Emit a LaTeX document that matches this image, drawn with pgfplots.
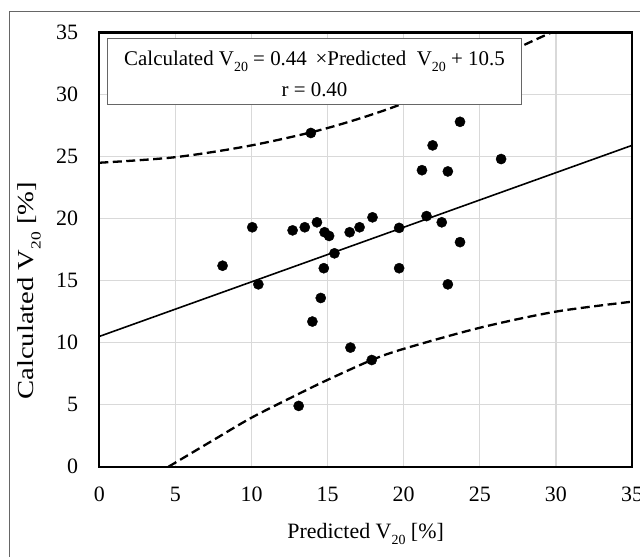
\documentclass[border=0pt]{standalone}
\usepackage{fontspec}
\setmainfont{Liberation Serif}
\usepackage{pgfplots}
\pgfplotsset{compat=1.18}

% lowered subscript like the Excel text
\newcommand\sub[1]{\raisebox{-0.3em}{\fontsize{14}{14}\selectfont #1}}
\newcommand\bigfont{\fontsize{21}{25}\selectfont}
\newcommand\tickfont{\fontsize{22}{26}\selectfont}

\begin{document}
\begin{tikzpicture}[x=1bp,y=1bp]
\useasboundingbox (0,0) rectangle (640,557);
\draw[black!60, line width=1bp] (9,0) -- (9,545) -- (640,545);
\begin{axis}[
    at={(99.3bp,90.3bp)}, anchor=south west,
    width=532.7bp, height=434.2bp, scale only axis,
    xmin=0, xmax=35, ymin=0, ymax=35,
    xtick={0,5,...,35}, ytick={0,5,...,35},
    major tick length=0pt,
    grid=major,
    major grid style={color=black!15, line width=1.2bp},
    axis line style={line width=2.2bp},
    /pgf/number format/assume math mode=true,
    tick label style={font=\tickfont},
    xticklabel style={anchor=north, inner sep=0pt, yshift=-20bp},
    yticklabel style={anchor=east, inner sep=0pt, xshift=-21bp},
    xlabel={Predicted V\sub{20} [\%]},
    ylabel={Calculated V\sub{20} [\%]},
    xlabel style={font=\tickfont, at={(axis description cs:0.5,-0.155)}, anchor=center},
    ylabel style={font=\fontsize{23}{27}\selectfont, xscale=1.25,
        at={(axis description cs:-0.1314,0.405)}, anchor=center},
]
% measured points
\addplot[only marks, mark=*, mark size=5.1bp, black] coordinates {
(8.1,16.2) (10.05,19.3) (10.45,14.7) (12.7,19.05) (13.1,4.9)
(13.5,19.3) (13.9,26.9) (14.0,11.7) (14.3,19.7) (14.55,13.6)
(14.75,16.0) (14.8,18.9) (15.1,18.6) (15.45,17.2) (16.45,18.9)
(16.5,9.6) (17.1,19.3) (17.9,8.6) (17.95,20.1) (19.7,19.25)
(19.7,16.0) (21.2,23.9) (21.5,20.2) (21.9,25.9) (22.5,19.7)
(22.9,23.8) (22.9,14.7) (23.7,18.1) (23.7,27.8) (26.4,24.8)
};
% regression line
\addplot[black, line width=1.6bp] coordinates {(0,10.5) (35,25.9)};
% upper band
\addplot[black, line width=2.3bp, dash pattern=on 9bp off 4.5bp, smooth] coordinates {
(0,24.5) (5,24.95) (10,25.9) (15,27.3) (20,29.3) (25,32.2) (27.75,33.9) (29.7,35)
};
% lower band
\addplot[black, line width=2.3bp, dash pattern=on 9bp off 4.5bp, smooth] coordinates {
(4.55,0) (7.5,2.15) (10,3.95) (12.9,5.75) (15,7.0) (17.9,8.6) (20,9.5)
(25,11.2) (30,12.5) (35,13.3)
};
\draw[fill=white, draw=black!60, line width=1.2bp]
  (rel axis cs:0.015,0.8346) rectangle (rel axis cs:0.793,0.9857);
\node[anchor=base, font=\bigfont, inner sep=0pt] at (rel axis cs:0.404,0.9245)
  {Calculated V\sub{20} = 0.44 \,×Predicted\ \ V\sub{20} + 10.5};
\node[anchor=base, font=\bigfont, inner sep=0pt] at (rel axis cs:0.404,0.8515)
  {r = 0.40};
\end{axis}
\end{tikzpicture}
\end{document}
